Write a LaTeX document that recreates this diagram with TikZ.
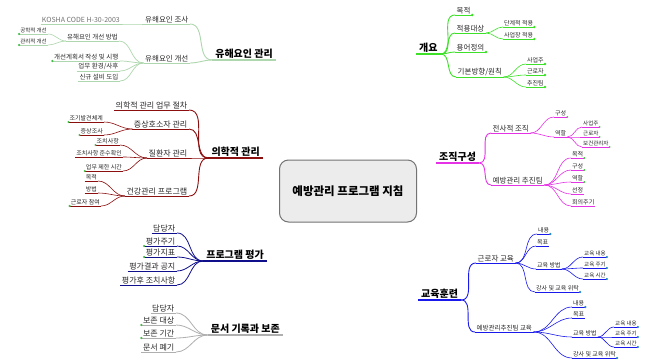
\documentclass[tikz,border=0pt]{standalone}
\usepackage{fontspec}
\setmainfont{Noto Sans CJK KR}
\usetikzlibrary{calc}
\pgfdeclarelayer{bg}
\pgfsetlayers{bg,main}
\definecolor{cG}{RGB}{60,225,40}
\definecolor{cLG}{RGB}{175,215,175}
\definecolor{cM}{RGB}{230,50,230}
\definecolor{cR}{RGB}{140,15,15}
\definecolor{cB}{RGB}{25,25,235}
\definecolor{cN}{RGB}{15,15,140}
\definecolor{cGr}{RGB}{175,175,175}
\definecolor{txt}{RGB}{40,40,40}
\definecolor{dotG}{RGB}{70,190,70}
\definecolor{dotB}{RGB}{40,140,190}
\definecolor{boxfill}{RGB}{236,236,236}
\definecolor{boxline}{RGB}{115,115,115}
% tapered main branch: colour, start, control1, control2, end(node anchor), half-width vector at start, half-width at end
\newcommand\mmbranch[7]{\fill[#1] ($#2-#6$) .. controls ($#3-#6$) and ($#4+(0,-#7)$) .. ($#5+(0,-#7)$) -- ($#5+(0,#7)$) .. controls ($#4+(0,#7)$) and ($#3+#6$) .. ($#2+#6$) -- cycle;}
\begin{document}
\begin{tikzpicture}[x=1pt,y=-1pt,
  lone/.style={font=\fontsize{10}{11}\selectfont\bfseries, text=black, inner xsep=3pt, inner ysep=1.5pt},
  ltwo/.style={font=\fontsize{7.5}{8}\selectfont, text=txt, inner xsep=1.5pt, inner ysep=1pt},
  ltwor/.style={font=\fontsize{8}{9}\selectfont, text=txt, inner xsep=1.5pt, inner ysep=1pt},
  ltwos/.style={font=\fontsize{6.5}{7}\selectfont, text=txt, inner xsep=1.5pt, inner ysep=0.8pt},
  lthree/.style={font=\fontsize{6}{7}\selectfont, text=txt, inner xsep=1pt, inner ysep=0.8pt},
  lthreeb/.style={font=\fontsize{6.5}{7}\selectfont, text=txt, inner xsep=1pt, inner ysep=0.8pt},
  lfour/.style={font=\fontsize{5.5}{6}\selectfont, text=txt, inner xsep=1pt, inner ysep=0.8pt},
  kosha/.style={font=\fontsize{7}{8}\selectfont, text=black!55, inner xsep=1pt, inner ysep=1pt},
  rgt/.style={anchor=south west},
  lft/.style={anchor=south east},
  ctr/.style={draw=boxline, line width=1pt, fill=boxfill, rounded corners=9pt,
    minimum width=137pt, minimum height=62pt, font=\fontsize{11.5}{13}\selectfont\bfseries},
]
\useasboundingbox (0,0) rectangle (654,361);
\fill[white] (0,0) rectangle (654,361);

% centre
\node[ctr] (c) at (348,191) {예방관리 프로그램 지침};

% ---------- 개요 (green)
\node[lone,rgt] (gA) at (416,54) {개요};
\node[ltwo,rgt] (g1) at (455,15) {목적};
\node[ltwo,rgt] (g2) at (455,33) {적용대상};
\node[ltwo,rgt] (g3) at (455,52) {용어정의};
\node[ltwo,rgt] (g4) at (456,77) {기본방향/원칙};
\node[lthree,rgt] (g21) at (503,27) {단계적 적용};
\node[lthree,rgt] (g22) at (503,39) {사업장 적용};
\node[lthree,rgt] (g41) at (526,64) {사업주};
\node[lthree,rgt] (g42) at (526,75) {근로자};
\node[lthree,rgt] (g43) at (526,87) {추진팀};

% ---------- 조직구성 (magenta)
\node[lone,rgt] (mA) at (436,163) {조직구성};
\node[ltwo,rgt] (m1) at (491,133) {전사적 조직};
\node[ltwo,rgt] (m2) at (491,185) {예방관리 추진팀};
\node[lthree,rgt] (m11) at (554,117) {구성};
\node[lthree,rgt] (m12) at (554,137) {역할};
\node[lfour,rgt] (m121) at (582,127) {사업주};
\node[lfour,rgt] (m122) at (582,137) {근로자};
\node[lfour,rgt] (m123) at (582,147) {보건관리자};
\node[lthree,rgt] (m21) at (571,158) {목적};
\node[lthree,rgt] (m22) at (571,170) {구성};
\node[lthree,rgt] (m23) at (571,182) {역할};
\node[lthree,rgt] (m24) at (571,194) {선정};
\node[lthree,rgt] (m25) at (571,206) {회의주기};

% ---------- 교육훈련 (blue)
\node[lone,rgt] (bA) at (418,300) {교육훈련};
\node[ltwo,rgt] (b1) at (476,263) {근로자 교육};
\node[ltwos,rgt] (b2) at (475,332) {예방관리추진팀 교육};
\node[lthree,rgt] (b11) at (537,234) {내용};
\node[lthree,rgt] (b12) at (536,246) {목표};
\node[lthree,rgt] (b13) at (536,269) {교육 방법};
\node[lthree,rgt] (b14) at (535,292) {강사 및 교육 위탁};
\node[lfour,rgt] (b131) at (583,257) {교육 내용};
\node[lfour,rgt] (b132) at (583,268) {교육 주기};
\node[lfour,rgt] (b133) at (583,279) {교육 시간};
\node[lthree,rgt] (b21) at (572,307) {내용};
\node[lthree,rgt] (b22) at (572,318) {목표};
\node[lthree,rgt] (b23) at (572,337) {교육 방법};
\node[lthree,rgt] (b24) at (572,358) {강사 및 교육 위탁};
\node[lfour,rgt] (b231) at (614,327) {교육 내용};
\node[lfour,rgt] (b232) at (614,337) {교육 주기};
\node[lfour,rgt] (b233) at (614,347) {교육 시간};

% ---------- 유해요인 관리 (light green)
\node[lone,lft] (hA) at (276,60) {유해요인 관리};
\node[ltwo,lft] (h1) at (190,24) {유해요인 조사};
\node[kosha,lft] (h11) at (121,24) {KOSHA CODE H-30-2003};
\node[ltwo,lft] (h2) at (190,63) {유해요인 개선};
\node[lthreeb,lft] (h21) at (119,41) {유해요인 개선 방법};
\node[lfour,lft] (h211) at (48,34) {공학적 개선};
\node[lfour,lft] (h212) at (48,45) {관리적 개선};
\node[ltwos,lft] (h22) at (120,61) {개선계획서 작성 및 시행};
\node[ltwos,lft] (h23) at (120,71) {업무 환경/사후};
\node[ltwos,lft] (h24) at (120,81) {신규 설비 도입};

% ---------- 의학적 관리 (dark red)
\node[lone,lft] (rA) at (263,158) {의학적 관리};
\node[ltwor,lft] (r1) at (189,110) {의학적 관리 업무 절차};
\node[ltwor,lft] (r2) at (189,129) {증상호소자 관리};
\node[ltwor,lft] (r3) at (189,158) {질환자 관리};
\node[ltwor,lft] (r4) at (189,196) {건강관리 프로그램};
\node[lthree,lft] (r21) at (104,122) {조기발견체계};
\node[lthree,lft] (r22) at (104,135) {증상조사};
\node[lthree,lft] (r31) at (120,145) {조치사항};
\node[lthree,lft] (r32) at (123,157) {조치사항 준수확인};
\node[lthree,lft] (r33) at (123,171) {업무 제한 시간};
\node[lthree,lft] (r41) at (98,181) {목적};
\node[lthree,lft] (r42) at (98,193) {방법};
\node[lthree,lft] (r43) at (101,206) {근로자 참여};

% ---------- 프로그램 평가 (navy)
\node[lone,lft] (nA) at (267,261) {프로그램 평가};
\node[ltwor,lft] (n1) at (177,233) {담당자};
\node[ltwor,lft] (n2) at (177,246) {평가주기};
\node[ltwor,lft] (n3) at (177,257) {평가지표};
\node[ltwor,lft] (n4) at (177,271) {평가결과 공지};
\node[ltwor,lft] (n5) at (177,285) {평가후 조치사항};

% ---------- 문서 기록과 보존 (grey)
\node[lone,lft] (yA) at (283,335) {문서 기록과 보존};
\node[ltwor,lft] (y1) at (176,313) {담당자};
\node[ltwor,lft] (y2) at (176,325) {보존 대상};
\node[ltwor,lft] (y3) at (176,338) {보존 기간};
\node[ltwor,lft] (y4) at (176,352) {문서 폐기};

% ---------- main tapered branches (behind the centre box)
\begin{pgfonlayer}{bg}
\mmbranch{cG}{(375,175)}{(380,100)}{(385,54)}{(gA.south west)}{(3,0)}{1.3}
\mmbranch{cLG}{(322,175)}{(316,95)}{(300,60)}{(hA.south east)}{(-2.5,0)}{1.2}
\mmbranch{cM}{(400,172)}{(418,170)}{(425,163)}{(mA.south west)}{(0,2.2)}{1.2}
\mmbranch{cR}{(295,172)}{(280,160)}{(272,158)}{(rA.south east)}{(0,2.5)}{1.3}
\mmbranch{cB}{(377,205)}{(383,265)}{(395,300)}{(bA.south west)}{(-3.8,0)}{1.4}
\mmbranch{cN}{(312,205)}{(305,245)}{(290,261)}{(nA.south east)}{(3,0)}{1.3}
\mmbranch{cGr}{(322,205)}{(305,300)}{(300,335)}{(yA.south east)}{(2.5,0)}{1.1}
\end{pgfonlayer}

% main label underlines
\draw[cG,line width=2.6] (gA.south west) -- (gA.south east);
\draw[cLG,line width=2.4] (hA.south east) -- (hA.south west);
\draw[cM,line width=2.4] (mA.south west) -- (mA.south east);
\draw[cR,line width=2.6] (rA.south east) -- (rA.south west);
\draw[cB,line width=2.8] (bA.south west) -- (bA.south east);
\draw[cN,line width=2.6] (nA.south east) -- (nA.south west);
\draw[cGr,line width=2.2] (yA.south east) -- (yA.south west);

% ---------- underlines of sub-topics
\foreach \n in {g1,g2,g3,g4} \draw[cG,line width=0.9] (\n.south west) -- (\n.south east);
\foreach \n in {g21,g22,g41,g42,g43} \draw[cG,line width=0.6] (\n.south west) -- (\n.south east);
\foreach \n in {m1,m2} \draw[cM,line width=0.9] (\n.south west) -- (\n.south east);
\foreach \n in {m11,m12,m121,m122,m123,m21,m22,m23,m24,m25} \draw[cM,line width=0.6] (\n.south west) -- (\n.south east);
\foreach \n in {b1,b2} \draw[cB,line width=0.9] (\n.south west) -- (\n.south east);
\foreach \n in {b11,b12,b13,b14,b131,b132,b133,b21,b22,b23,b24,b231,b232,b233} \draw[cB,line width=0.6] (\n.south west) -- (\n.south east);
\foreach \n in {h1,h2,h11,h21,h211,h212,h22,h23,h24} \draw[cLG,line width=0.7] (\n.south west) -- (\n.south east);
\foreach \n in {r1,r2,r3,r4} \draw[cR,line width=0.9] (\n.south west) -- (\n.south east);
\foreach \n in {r21,r22,r31,r32,r33,r41,r42,r43} \draw[cR,line width=0.6] (\n.south west) -- (\n.south east);
\foreach \n in {n1,n2,n3,n4,n5} \draw[cN,line width=0.8] (\n.south west) -- (\n.south east);
\foreach \n in {y1,y2,y3,y4} \draw[cGr,line width=0.8] (\n.south west) -- (\n.south east);

% ---------- connectors, right side
\foreach \c in {g1,g2,g3,g4} \draw[cG,line width=0.9] (gA.south east) to[out=0,in=180] (\c.south west);
\foreach \c in {g21,g22} \draw[cG,line width=0.6] (g2.south east) to[out=0,in=180] (\c.south west);
\foreach \c in {g41,g42,g43} \draw[cG,line width=0.6] (g4.south east) to[out=0,in=180] (\c.south west);
\foreach \c in {m1,m2} \draw[cM,line width=0.9] (mA.south east) to[out=0,in=180] (\c.south west);
\foreach \c in {m11,m12} \draw[cM,line width=0.6] (m1.south east) to[out=0,in=180] (\c.south west);
\foreach \c in {m121,m122,m123} \draw[cM,line width=0.6] (m12.south east) to[out=0,in=180] (\c.south west);
\foreach \c in {m21,m22,m23,m24,m25} \draw[cM,line width=0.6] (m2.south east) to[out=0,in=180] (\c.south west);
\foreach \c in {b1,b2} \draw[cB,line width=0.9] (bA.south east) to[out=0,in=180] (\c.south west);
\foreach \c in {b11,b12,b13,b14} \draw[cB,line width=0.6] (b1.south east) to[out=0,in=180] (\c.south west);
\foreach \c in {b131,b132,b133} \draw[cB,line width=0.6] (b13.south east) to[out=0,in=180] (\c.south west);
\foreach \c in {b21,b22,b23,b24} \draw[cB,line width=0.6] (b2.south east) to[out=0,in=180] (\c.south west);
\foreach \c in {b231,b232,b233} \draw[cB,line width=0.6] (b23.south east) to[out=0,in=180] (\c.south west);

% ---------- connectors, left side
\foreach \c in {h1,h2} \draw[cLG,line width=0.9] (hA.south west) to[out=180,in=0] (\c.south east);
\draw[cLG,line width=0.7] (h1.south west) to[out=180,in=0] (h11.south east);
\foreach \c in {h21,h22,h23,h24} \draw[cLG,line width=0.7] (h2.south west) to[out=180,in=0] (\c.south east);
\foreach \c in {h211,h212} \draw[cLG,line width=0.6] (h21.south west) to[out=180,in=0] (\c.south east);
\foreach \c in {r1,r2,r3,r4} \draw[cR,line width=0.9] (rA.south west) to[out=180,in=0] (\c.south east);
\foreach \c in {r21,r22} \draw[cR,line width=0.6] (r2.south west) to[out=180,in=0] (\c.south east);
\foreach \c in {r31,r32,r33} \draw[cR,line width=0.6] (r3.south west) to[out=180,in=0] (\c.south east);
\foreach \c in {r41,r42,r43} \draw[cR,line width=0.6] (r4.south west) to[out=180,in=0] (\c.south east);
\foreach \c in {n1,n2,n3,n4,n5} \draw[cN,line width=0.8] (nA.south west) to[out=180,in=0] (\c.south east);
\foreach \c in {y1,y2,y3,y4} \draw[cGr,line width=0.8] (yA.south west) to[out=180,in=0] (\c.south east);

% ---------- leaf markers
\foreach \n in {g1,g3,g21,g22,g41,g42,g43} \fill[cG] (\n.south east) circle (1.3);
\foreach \n in {m11,m121,m122,m123,m21,m22,m23} \fill[dotG] (\n.south east) circle (1);
\foreach \n in {b11,b14,b131,b132,b133,b21,b24,b231,b232,b233} \fill[dotB] (\n.south east) circle (1.2);
\foreach \n in {h211,h212,h22,r21,r22,r31,r33,r43,n2,n3,y2,y3} \fill[dotG] (\n.south west) circle (1.2);
\end{tikzpicture}
\end{document}
